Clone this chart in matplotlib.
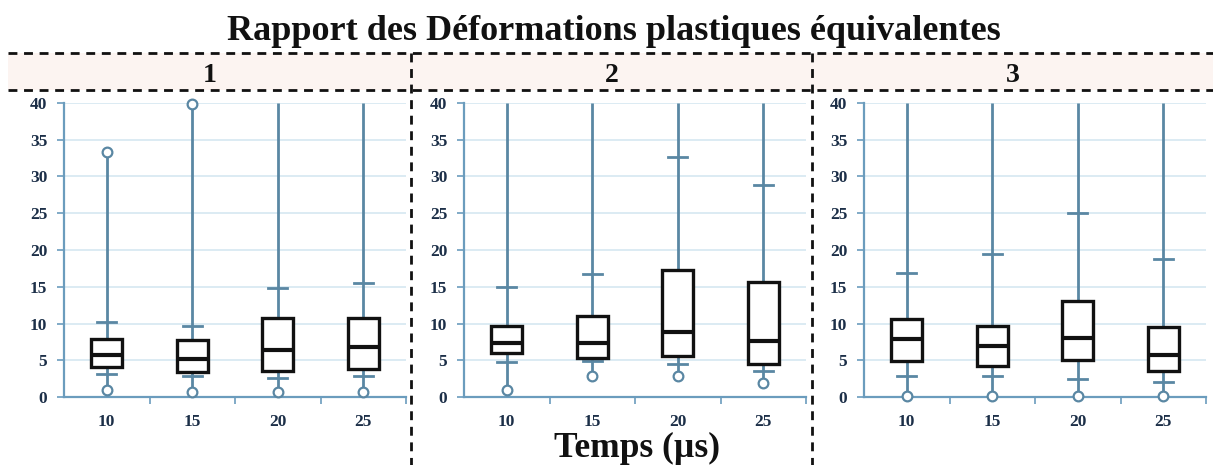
import matplotlib
matplotlib.use("Agg")
import matplotlib.pyplot as plt
from matplotlib.patches import Rectangle
from matplotlib.lines import Line2D

# Time steps (µs) shown on each panel
categories = ["10", "15", "20", "25"]
panel_names = ["1", "2", "3"]

# Box-plot statistics per panel: minimum, lower cap, Q1, median, Q3, upper cap, maximum
p1_min = [0.9, 0.7, 0.7, 0.7]
p1_low = [3.1, 2.8, 2.6, 2.8]
p1_q1 = [4.1, 3.4, 3.6, 3.8]
p1_med = [5.7, 5.2, 6.4, 6.8]
p1_q3 = [7.9, 7.7, 10.7, 10.7]
p1_high = [10.2, 9.6, 14.8, 15.5]
p1_max = [33.4, 39.8, 48.0, 48.0]

p2_min = [1.0, 2.9, 2.9, 1.9]
p2_low = [4.8, 4.9, 4.5, 3.5]
p2_q1 = [6.0, 5.3, 5.6, 4.5]
p2_med = [7.3, 7.3, 8.8, 7.6]
p2_q3 = [9.7, 11.0, 17.3, 15.6]
p2_high = [15.0, 16.7, 32.6, 28.9]
p2_max = [48.0, 48.0, 48.0, 48.0]

p3_min = [0.2, 0.2, 0.2, 0.2]
p3_low = [2.8, 2.9, 2.5, 2.1]
p3_q1 = [4.9, 4.2, 5.1, 3.6]
p3_med = [7.9, 6.9, 8.0, 5.7]
p3_q3 = [10.6, 9.6, 13.1, 9.5]
p3_high = [16.9, 19.4, 25.0, 18.8]
p3_max = [48.0, 48.0, 48.0, 48.0]

panels = [
    (p1_min, p1_low, p1_q1, p1_med, p1_q3, p1_high, p1_max),
    (p2_min, p2_low, p2_q1, p2_med, p2_q3, p2_high, p2_max),
    (p3_min, p3_low, p3_q1, p3_med, p3_q3, p3_high, p3_max),
]

y_ticks = [0, 5, 10, 15, 20, 25, 30, 35, 40]

SERIF = ["Liberation Serif", "DejaVu Serif"]
AXIS_BLUE = "#6b9cbd"
GRID_BLUE = "#d6e7f1"
WHISK = "#5a87a3"
LABEL_C = "#1c2f48"

W, H = 1213, 465
fig = plt.figure(figsize=(W / 100, H / 100), dpi=100)
fig.patch.set_facecolor("white")


def fx(px):
    return px / W


def fy(py):
    return 1 - py / H


# Header strips with dashed borders
strip_top, strip_bot = 53, 90
strips = [(8, 411), (411, 812), (812, 1213)]
for (x0, x1), name in zip(strips, panel_names):
    fig.patches.append(Rectangle((fx(x0), fy(strip_bot)), fx(x1 - x0),
                                 fy(strip_top) - fy(strip_bot),
                                 transform=fig.transFigure,
                                 facecolor="#fcf4f1", edgecolor="none", zorder=0))
    fig.text(fx((x0 + x1) / 2), fy(82), name, ha="center", va="baseline",
             fontsize=20, fontweight="bold", family=SERIF, color="#111111")

dash = dict(color="#111111", lw=2.0, linestyle=(0, (3.2, 2.4)),
            transform=fig.transFigure)
for yy in (strip_top, strip_bot):
    fig.add_artist(Line2D([fx(8), fx(1213)], [fy(yy), fy(yy)], **dash))
for xx in (411, 812):
    fig.add_artist(Line2D([fx(xx), fx(xx)], [fy(strip_top), fy(465)], **dash))

fig.text(fx(614), fy(40), "Rapport des Déformations plastiques équivalentes",
         ha="center", va="baseline", fontsize=26, fontweight="bold",
         family=SERIF, color="#111111")
fig.text(fx(637), fy(457), "Temps (µs)", ha="center", va="baseline",
         fontsize=25.5, fontweight="bold", family=SERIF, color="#111111")

ax_lefts = [64, 464, 864]
ax_top, ax_bot, ax_w = 103, 397, 342
box_w = 0.36
cap_w = 0.22

for left, stats in zip(ax_lefts, panels):
    ax = fig.add_axes([fx(left), fy(ax_bot), fx(ax_w), fy(ax_top) - fy(ax_bot)])
    ax.set_facecolor("none")
    vmin, vlow, q1, med, q3, vhigh, vmax = stats
    xs = list(range(len(categories)))
    for i in xs:
        top = min(vmax[i], 40)
        ax.plot([i, i], [vmin[i], top], color=WHISK, lw=2.0, zorder=2,
                solid_capstyle="butt", clip_on=False)
        ax.plot([i - cap_w / 2, i + cap_w / 2], [vlow[i], vlow[i]],
                color=WHISK, lw=2.0, zorder=2)
        ax.plot([i - cap_w / 2, i + cap_w / 2], [vhigh[i], vhigh[i]],
                color=WHISK, lw=2.0, zorder=2)
        ax.add_patch(Rectangle((i - box_w / 2, q1[i]), box_w, q3[i] - q1[i],
                               facecolor="white", edgecolor="#111111",
                               lw=2.4, zorder=3))
        ax.plot([i - box_w / 2, i + box_w / 2], [med[i], med[i]],
                color="#111111", lw=3.0, zorder=4, solid_capstyle="butt")
        ax.plot([i], [vmin[i]], marker="o", ms=7, mfc="white", mec=WHISK,
                mew=1.6, zorder=5, clip_on=False)
        if vmax[i] <= 40:
            ax.plot([i], [vmax[i]], marker="o", ms=7, mfc="white", mec=WHISK,
                    mew=1.6, zorder=5, clip_on=False)

    ax.set_xlim(-0.5, len(categories) - 0.5)
    ax.set_ylim(0, 40)
    ax.set_yticks(y_ticks)
    ax.set_yticklabels([str(v) for v in y_ticks])
    ax.set_xticks(xs)
    ax.set_xticklabels(categories)
    ax.set_xticks([i + 0.5 for i in xs], minor=True)
    ax.tick_params(axis="x", which="major", length=0, pad=12)
    ax.tick_params(axis="x", which="minor", length=5, width=1.2,
                   color=AXIS_BLUE, direction="out")
    ax.tick_params(axis="y", length=5, width=1.2, color=AXIS_BLUE, pad=7)
    for lab in ax.get_xticklabels() + ax.get_yticklabels():
        lab.set_family(SERIF)
        lab.set_fontweight("bold")
        lab.set_fontsize(12.5)
        lab.set_color(LABEL_C)
    ax.yaxis.grid(True, color=GRID_BLUE, lw=1.2, zorder=0)
    ax.set_axisbelow(True)
    for s in ("top", "right"):
        ax.spines[s].set_visible(False)
    for s in ("left", "bottom"):
        ax.spines[s].set_color(AXIS_BLUE)
        ax.spines[s].set_linewidth(1.6)

fig.savefig("out.png", dpi=100)
